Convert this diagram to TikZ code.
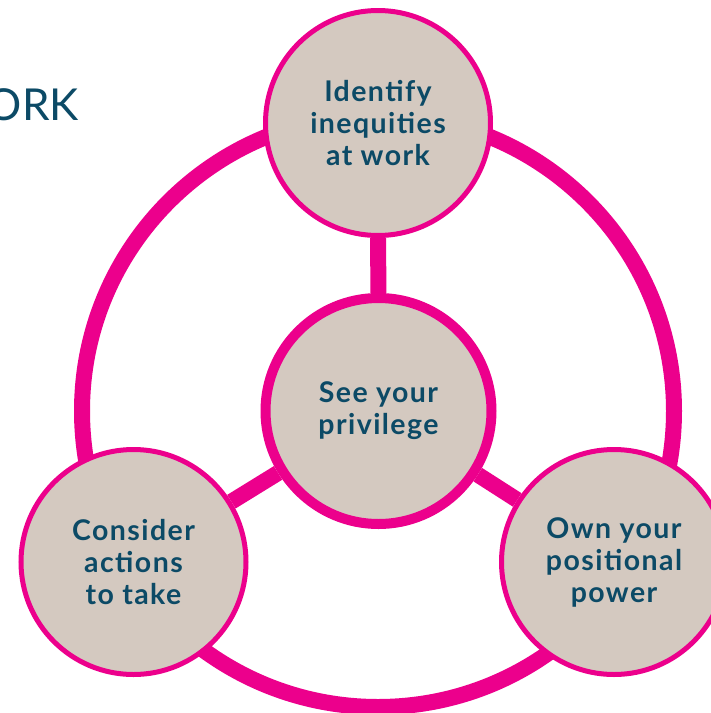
\documentclass[tikz,border=0pt]{standalone}
\usepackage{fontspec}
\setmainfont{Lato}
\newfontfamily\nodefont[LetterSpace=5]{Lato}
\definecolor{ringpink}{HTML}{EC008C}
\definecolor{nodefill}{HTML}{D4C9C0}
\definecolor{textteal}{HTML}{0C4A66}
\begin{document}
\begin{tikzpicture}[x=1pt,y=-1pt,
  topic/.style={circle, draw=ringpink, line width=5pt, fill=nodefill, minimum size=225pt, inner sep=0pt, align=center, text=textteal, font=\nodefont\fontsize{28.5}{32}\selectfont\bfseries},
  hub/.style={topic, line width=10pt, minimum size=226pt},
  link/.style={draw=ringpink, line width=16pt},
  titletext/.style={anchor=base east, inner sep=0pt, text=textteal, font=\fontsize{44}{44}\selectfont}]
\useasboundingbox (0,0) rectangle (711,713);
\fill[white] (0,0) rectangle (711,713);
\coordinate (ringc) at (378,411);
\draw[link] (ringc) circle[radius=296];
\node[titletext] (title) at (79,120) {ORK};
\node[hub] (see) at (378.5,411) {See your\\privilege};
\node[topic] (identify) at (378,123) {Identify\\inequities\\at work};
\node[topic] (consider) at (133.5,562) {Consider\\actions\\to take};
\node[topic] (own) at (614,562) {Own your\\positional\\power};
\draw[link] (see) -- (identify);
\draw[link] (see) -- (consider);
\draw[link] (see) -- (own);
\end{tikzpicture}
\end{document}
